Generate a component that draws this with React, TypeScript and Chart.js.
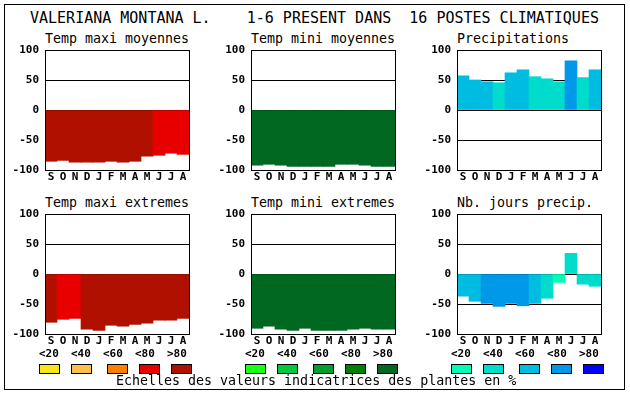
import React, { useEffect, useRef } from 'react';
import { Chart, registerables } from 'chart.js';

Chart.register(...registerables);

// ---------- data ----------
const MAIN_TITLE = 'VALERIANA MONTANA L.    1-6 PRESENT DANS  16 POSTES CLIMATIQUES';
const FOOTER = 'Echelles des valeurs indicatrices des plantes en %';
const MONTHS = ['S', 'O', 'N', 'D', 'J', 'F', 'M', 'A', 'M', 'J', 'J', 'A'];
const Y_MIN = -100;
const Y_MAX = 100;
const Y_STEP = 50;
const CLASS_LABELS = ['<20', '<40', '<60', '<80', '>80'];

const RED_SCALE = ['#f8e418', '#ffbe50', '#ff8000', '#e80000', '#b01000'];
const GREEN_SCALE = ['#18ff18', '#00c840', '#00a030', '#008000', '#006820'];
const BLUE_SCALE = ['#00ffb4', '#00dccc', '#00bce0', '#0098e8', '#0000ff'];

const TMAX_MOY = [-85.5, -84, -87, -87, -87, -85.5, -87, -85.5, -77, -75.5, -72, -74];
const TMAX_MOY_CLASS = [4, 4, 4, 4, 4, 4, 4, 4, 4, 3, 3, 3];

const TMIN_MOY = [-92, -90.5, -92, -94, -94, -94, -94, -90.5, -90.5, -92, -94, -94];
const TMIN_MOY_CLASS = [4, 4, 4, 4, 4, 4, 4, 4, 4, 4, 4, 4];

const PRECIP = [57, 50, 47, 45.5, 62, 67, 55.5, 52, 47, 82, 54, 67];
const PRECIP_CLASS = [2, 2, 2, 1, 2, 2, 1, 1, 1, 3, 1, 2];

const TMAX_EXT = [-80.5, -75.5, -74, -92, -94, -85.5, -87, -84, -82, -77, -77, -74];
const TMAX_EXT_CLASS = [4, 3, 3, 4, 4, 4, 4, 4, 4, 4, 4, 4];

const TMIN_EXT = [-90.5, -87, -92, -94, -90.5, -94, -94, -94, -92, -90.5, -92, -92];
const TMIN_EXT_CLASS = [4, 4, 4, 4, 4, 4, 4, 4, 4, 4, 4, 4];

const NB_JOURS = [-37, -45.5, -49, -54, -49, -53, -49, -40.5, -14, 34.5, -17, -20.5];
const NB_JOURS_CLASS = [2, 2, 3, 3, 3, 3, 2, 1, 0, 1, 1, 1];

// ---------- layout ----------
const MONO = "'DejaVu Sans Mono', 'Liberation Mono', monospace";
const COLS = [45, 251, 457];
const ROWS = [50, 214];
const PLOT_W = 144;
const PLOT_H = 120;
const Y_AXIS_W = 45;
const PAD_TOP = 8;
const PAD_RIGHT = 6;
const X_AXIS_H = 20;

const PANELS = [
  { title: 'Temp maxi moyennes', values: TMAX_MOY, classes: TMAX_MOY_CLASS, palette: RED_SCALE, col: 0, row: 0 },
  { title: 'Temp mini moyennes', values: TMIN_MOY, classes: TMIN_MOY_CLASS, palette: GREEN_SCALE, col: 1, row: 0 },
  { title: 'Precipitations', values: PRECIP, classes: PRECIP_CLASS, palette: BLUE_SCALE, col: 2, row: 0 },
  { title: 'Temp maxi extremes', values: TMAX_EXT, classes: TMAX_EXT_CLASS, palette: RED_SCALE, col: 0, row: 1 },
  { title: 'Temp mini extremes', values: TMIN_EXT, classes: TMIN_EXT_CLASS, palette: GREEN_SCALE, col: 1, row: 1 },
  { title: 'Nb. jours precip.', values: NB_JOURS, classes: NB_JOURS_CLASS, palette: BLUE_SCALE, col: 2, row: 1 },
];
const LEGEND_PALETTES = [RED_SCALE, GREEN_SCALE, BLUE_SCALE];
const LABEL_OFFSETS = [-6, 26, 58, 90, 122];
const BOX_OFFSETS = [-6, 26, 62, 94, 126];

const framePlugin = {
  id: 'plotFrame',
  afterDraw(chart: any) {
    const { ctx, chartArea: a } = chart;
    ctx.save();
    ctx.strokeStyle = '#000';
    ctx.lineWidth = 1;
    ctx.strokeRect(
      Math.round(a.left) + 0.5,
      Math.round(a.top) + 0.5,
      Math.round(a.right - a.left),
      Math.round(a.bottom - a.top)
    );
    ctx.restore();
  },
};

function Panel({ p }: { p: (typeof PANELS)[number] }) {
  const ref = useRef<HTMLCanvasElement>(null);
  useEffect(() => {
    if (!ref.current) return;
    const tickFont = { family: MONO, size: 11, weight: 'bold' as const };
    const chart = new Chart(ref.current, {
      type: 'bar',
      data: {
        labels: MONTHS,
        datasets: [
          {
            data: p.values,
            backgroundColor: p.classes.map((c) => p.palette[c]),
            borderWidth: 0,
            barPercentage: 1,
            categoryPercentage: 1,
          },
        ],
      },
      options: {
        animation: false,
        responsive: false,
        events: [],
        layout: { padding: { top: PAD_TOP, right: PAD_RIGHT, left: 0, bottom: 0 } },
        plugins: { legend: { display: false }, tooltip: { enabled: false }, title: { display: false } },
        scales: {
          x: {
            grid: { display: false, drawTicks: false },
            border: { display: false },
            ticks: { color: '#000', font: tickFont, padding: 1, autoSkip: false, maxRotation: 0 },
            afterFit: (s: any) => {
              s.height = X_AXIS_H;
              s.paddingLeft = 0;
              s.paddingRight = 0;
            },
          },
          y: {
            min: Y_MIN,
            max: Y_MAX,
            z: 1,
            border: { display: false },
            grid: { color: '#000', lineWidth: 1, drawTicks: false },
            ticks: { stepSize: Y_STEP, color: '#000', font: tickFont, padding: 6 },
            afterFit: (s: any) => {
              s.width = Y_AXIS_W;
              s.paddingTop = 0;
              s.paddingBottom = 0;
            },
          },
        },
      },
      plugins: [framePlugin],
    });
    return () => chart.destroy();
  }, [p]);
  const left = COLS[p.col] - Y_AXIS_W;
  const top = ROWS[p.row] - PAD_TOP;
  return (
    <canvas
      ref={ref}
      width={Y_AXIS_W + PLOT_W + PAD_RIGHT}
      height={PAD_TOP + PLOT_H + X_AXIS_H}
      style={{ position: 'absolute', left, top, display: 'block' }}
    />
  );
}

export default function App() {
  return (
    <div
      style={{
        position: 'absolute',
        left: 0,
        top: 0,
        width: 630,
        height: 394,
        background: '#fff',
        overflow: 'hidden',
        color: '#000',
      }}
    >
      <div
        style={{
          position: 'absolute',
          left: 4,
          top: 4,
          width: 621,
          height: 386,
          border: '1px solid #000',
          boxSizing: 'border-box',
        }}
      />
      <div
        style={{
          position: 'absolute',
          left: 30,
          top: 9,
          fontFamily: MONO,
          fontSize: 15,
          lineHeight: '18px',
          whiteSpace: 'pre',
        }}
      >
        {MAIN_TITLE}
      </div>
      {PANELS.map((p, i) => (
        <React.Fragment key={i}>
          <div
            style={{
              position: 'absolute',
              left: COLS[p.col],
              top: ROWS[p.row] - 19,
              fontFamily: MONO,
              fontSize: 13.3,
              lineHeight: '16px',
              whiteSpace: 'pre',
            }}
          >
            {p.title}
          </div>
          <Panel p={p} />
        </React.Fragment>
      ))}
      {LEGEND_PALETTES.map((pal, c) => (
        <React.Fragment key={'lg' + c}>
          {CLASS_LABELS.map((lab, k) => (
            <div
              key={'l' + k}
              style={{
                position: 'absolute',
                left: COLS[c] + LABEL_OFFSETS[k],
                top: 347,
                fontFamily: MONO,
                fontSize: 11,
                fontWeight: 'bold',
                lineHeight: '13px',
                whiteSpace: 'pre',
              }}
            >
              {lab}
            </div>
          ))}
          {pal.map((col, k) => (
            <div
              key={'b' + k}
              style={{
                position: 'absolute',
                left: COLS[c] + BOX_OFFSETS[k],
                top: 364,
                width: 21,
                height: 10,
                boxSizing: 'border-box',
                border: '1px solid #000',
                background: col,
              }}
            />
          ))}
        </React.Fragment>
      ))}
      <div
        style={{
          position: 'absolute',
          left: 116,
          top: 373,
          fontFamily: MONO,
          fontSize: 13.3,
          lineHeight: '16px',
          whiteSpace: 'pre',
        }}
      >
        {FOOTER}
      </div>
    </div>
  );
}
